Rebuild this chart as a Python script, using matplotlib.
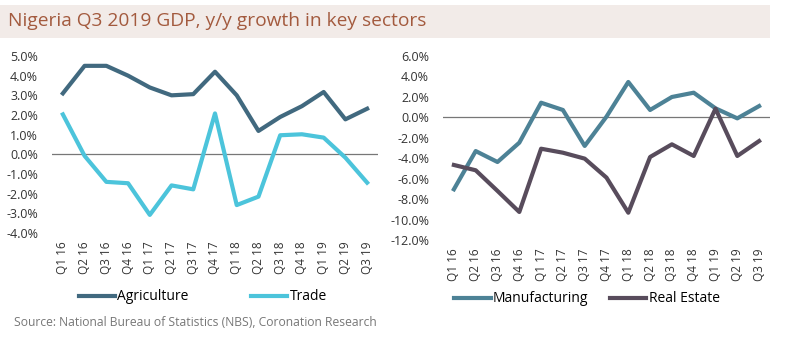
import matplotlib.pyplot as plt
from matplotlib.patches import Rectangle
from matplotlib.ticker import FuncFormatter

quarters = ["Q1 16", "Q2 16", "Q3 16", "Q4 16", "Q1 17", "Q2 17", "Q3 17", "Q4 17",
            "Q1 18", "Q2 18", "Q3 18", "Q4 18", "Q1 19", "Q2 19", "Q3 19"]
agriculture = [3.1, 4.5, 4.5, 4.0, 3.4, 3.0, 3.06, 4.2, 3.0, 1.19, 1.9, 2.45, 3.17, 1.78, 2.32]
trade = [2.03, -0.08, -1.4, -1.47, -3.08, -1.58, -1.78, 2.08, -2.58, -2.15, 0.97, 1.02, 0.85, -0.17, -1.44]
manufacturing = [-7.04, -3.3, -4.37, -2.48, 1.43, 0.72, -2.8, 0.07, 3.46, 0.72, 1.99, 2.41, 0.88, -0.1, 1.1]
real_estate = [-4.66, -5.18, -7.2, -9.26, -3.07, -3.46, -4.04, -5.9, -9.33, -3.88, -2.64, -3.78, 0.85, -3.78, -2.32]

plt.rcParams['font.family'] = ['Open Sans', 'DejaVu Sans']

W, H = 786, 342
fig = plt.figure(figsize=(W / 100, H / 100), dpi=100)

# title bar
fig.patches.append(Rectangle((0, 1 - 38 / H), 770 / W, 33 / H, transform=fig.transFigure,
                             facecolor='#f2ebe8', edgecolor='none', zorder=0))
fig.text(8 / W, 1 - 21 / H, "Nigeria Q3 2019 GDP, y/y growth in key sectors",
         fontsize=13.8, color='#a35a3e', va='center', ha='left')

pct = FuncFormatter(lambda v, p: f"{v:.1f}%")
x = range(len(quarters))


def style(ax, ylo, yhi, step):
    ax.set_xlim(-0.5, len(quarters) - 0.5)
    ax.set_ylim(ylo, yhi)
    ax.set_yticks([ylo + i * step for i in range(int(round((yhi - ylo) / step)) + 1)])
    ax.yaxis.set_major_formatter(pct)
    ax.set_xticks(list(x))
    ax.set_xticklabels(quarters, rotation=90, fontsize=8.5, color='#333333')
    ax.tick_params(axis='y', labelsize=9, colors='#333333', length=0, pad=10)
    ax.tick_params(axis='x', length=0, pad=6)
    for s in ax.spines.values():
        s.set_visible(False)
    ax.axhline(0, color='#777777', lw=0.9, zorder=1)


ax1 = fig.add_axes([52 / W, 1 - 233 / H, 326 / W, 177 / H])
ax1.plot(x, agriculture, color='#41697f', lw=3, label='Agriculture', zorder=3)
ax1.plot(x, trade, color='#4cc4db', lw=3, label='Trade', zorder=3)
style(ax1, -4, 5, 1)
fig.legend(handles=ax1.get_lines()[:2], loc='center', bbox_to_anchor=(203 / W, 1 - 297 / H),
           ncol=2, frameon=False, fontsize=10, handlelength=2.6, handletextpad=0.15,
           columnspacing=4.5, borderaxespad=0)

ax2 = fig.add_axes([443 / W, 1 - 240 / H, 327 / W, 184 / H])
ax2.plot(x, manufacturing, color='#4d8296', lw=3, label='Manufacturing', zorder=3)
ax2.plot(x, real_estate, color='#584c5c', lw=3, label='Real Estate', zorder=3)
style(ax2, -12, 6, 2)
fig.legend(handles=ax2.get_lines()[:2], loc='center', bbox_to_anchor=(587 / W, 1 - 299 / H),
           ncol=2, frameon=False, fontsize=10, handlelength=2.6, handletextpad=0.15,
           columnspacing=1.6, borderaxespad=0)

fig.text(14 / W, 1 - 322 / H, "Source: National Bureau of Statistics (NBS), Coronation Research",
         fontsize=8.7, color='#777777', va='center', ha='left')

fig.savefig('out.png', dpi=100)
